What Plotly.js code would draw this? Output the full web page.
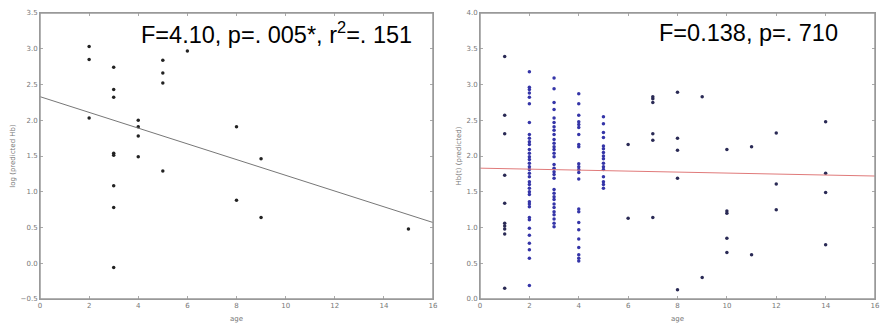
<!DOCTYPE html>
<html>
<head>
<meta charset="utf-8">
<script src="https://cdn.plot.ly/plotly-3.0.1.min.js"></script>
<style>html,body{margin:0;padding:0;background:#fff;overflow:hidden}#chart{width:880px;height:335px}</style>
</head>
<body>
<div id="chart"></div>
<script>
// Left panel data
const leftX = [2,2,2, 3,3,3,3,3,3,3,3, 4,4,4,4, 5,5,5,5, 6, 8,8, 9,9, 15];
const leftY = [3.03,2.85,2.03, 2.74,2.43,2.32,1.54,1.51,1.085,0.78,-0.06, 2.0,1.91,1.78,1.49, 2.84,2.66,2.52,1.29, 2.97, 1.91,0.88, 1.46,0.64, 0.48];
const leftLineX = [0, 16];
const leftLineY = [2.33, 0.57];

// Right panel data
const rightX1 = [1,1,1,1,1,1,1,1,1,1];
const rightY1 = [3.39,2.57,2.31,1.73,1.34,1.06,1.02,0.98,0.91,0.15];
const rightY2 = [3.18,2.96,2.93,2.88,2.82,2.73,2.47,2.30,2.25,2.20,2.16,2.09,2.04,1.99,1.95,1.90,1.85,1.81,1.76,1.71,1.64,1.60,1.55,1.50,1.46,1.36,1.33,1.29,1.14,1.11,0.99,0.89,0.78,0.69,0.57,0.19];
const rightY3 = [3.09,2.94,2.75,2.65,2.53,2.47,2.41,2.36,2.30,2.23,2.18,2.13,2.09,2.04,1.99,1.88,1.83,1.78,1.74,1.69,1.53,1.48,1.43,1.39,1.33,1.28,1.22,1.18,1.12,1.06,1.01];
const rightY4 = [2.87,2.73,2.57,2.48,2.44,2.40,2.30,2.16,2.13,1.89,1.85,1.81,1.77,1.68,1.26,1.22,1.07,0.97,0.84,0.72,0.62,0.57,0.53];
const rightY5 = [2.55,2.45,2.33,2.26,2.14,2.10,2.05,2.00,1.96,1.90,1.85,1.81,1.71,1.64,1.60,1.55];
const rightXRest = [6,6, 7,7,7,7,7,7, 8,8,8,8,8, 9,9, 10,10,10,10,10, 11,11, 12,12,12, 14,14,14,14];
const rightYRest = [2.16,1.13, 2.83,2.80,2.75,2.31,2.22,1.14, 2.89,2.25,2.08,1.69,0.13, 2.83,0.30, 2.09,1.23,1.20,0.85,0.65, 2.13,0.62, 2.32,1.61,1.25, 2.48,1.76,1.49,0.76];
const rightLineX = [0, 16];
const rightLineY = [1.83, 1.72];

const xTicks = [0,2,4,6,8,10,12,14,16];

function col(n, v){ return Array(n).fill(v); }
const rX = [].concat(rightX1, col(rightY2.length,2), col(rightY3.length,3), col(rightY4.length,4), col(rightY5.length,5), rightXRest);
const rY = [].concat(rightY1, rightY2, rightY3, rightY4, rightY5, rightYRest);
const rColors = [].concat(col(rightY1.length,'#2a2a55'), col(rightY2.length,'#3535a8'), col(rightY3.length,'#3535a8'), col(rightY4.length,'#3535a8'), col(rightY5.length,'#3535a8'), col(rightYRest.length,'#2a2a55'));

const traces = [
  {x: leftX, y: leftY, type:'scatter', mode:'markers', marker:{color:'#222', size:3.5}, xaxis:'x', yaxis:'y'},
  {x: leftLineX, y: leftLineY, type:'scatter', mode:'lines', line:{color:'#777', width:1}, xaxis:'x', yaxis:'y'},
  {x: rX, y: rY, type:'scatter', mode:'markers', marker:{color:rColors, size:3.5}, xaxis:'x2', yaxis:'y2'},
  {x: rightLineX, y: rightLineY, type:'scatter', mode:'lines', line:{color:'#e07a7a', width:1}, xaxis:'x2', yaxis:'y2'}
];

function tf(){ return {family:'DejaVu Sans, sans-serif', size:7, color:'#777777'}; }
function ax(extra){
  return Object.assign({showgrid:false, zeroline:false, showline:true, linecolor:'#999999', linewidth:1, mirror:'ticks', ticks:'inside', ticklen:3, tickcolor:'#aaaaaa', tickfont:tf(), automargin:false}, extra);
}

const layout = {
  width:880, height:335,
  margin:{l:0,r:0,t:0,b:0},
  paper_bgcolor:'#fff', plot_bgcolor:'#fff',
  showlegend:false,
  xaxis: ax({domain:[40/880, 433/880], range:[0,16], tickvals:xTicks, anchor:'y', title:{text:'age', font:tf(), standoff:6}}),
  yaxis: ax({domain:[1-299/335, 1-13/335], range:[-0.5,3.5], dtick:0.5, tick0:0, tickformat:'.1f', anchor:'x', title:{text:'log (predicted Hb)', font:tf(), standoff:4}}),
  xaxis2: ax({domain:[480/880, 875/880], range:[0,16], tickvals:xTicks, anchor:'y2', title:{text:'age', font:tf(), standoff:6}}),
  yaxis2: ax({domain:[1-299/335, 1-13/335], range:[0,4], dtick:0.5, tick0:0, tickformat:'.1f', anchor:'x2', title:{text:'Hb(t) (predicted)', font:tf(), standoff:4}}),
  shapes:[
    {type:'rect', xref:'x domain', yref:'y domain', x0:0, x1:1, y0:0, y1:1, line:{color:'#999999', width:1.5}, layer:'above'},
    {type:'rect', xref:'x2 domain', yref:'y2 domain', x0:0, x1:1, y0:0, y1:1, line:{color:'#999999', width:1.5}, layer:'above'}
  ],
  annotations:[
    {xref:'paper', yref:'paper', x:276/880, y:1-33/335, text:'F=4.10, p=. 005*, r<sup>2</sup>=. 151', showarrow:false, font:{family:'Liberation Sans, Arial, sans-serif', size:23.5, color:'#000'}, xanchor:'center', yanchor:'middle'},
    {xref:'paper', yref:'paper', x:748/880, y:1-33/335, text:'F=0.138, p=. 710', showarrow:false, font:{family:'Liberation Sans, Arial, sans-serif', size:23.5, color:'#000'}, xanchor:'center', yanchor:'middle'}
  ]
};

Plotly.newPlot('chart', traces, layout, {staticPlot:true, displayModeBar:false});
</script>
</body>
</html>
